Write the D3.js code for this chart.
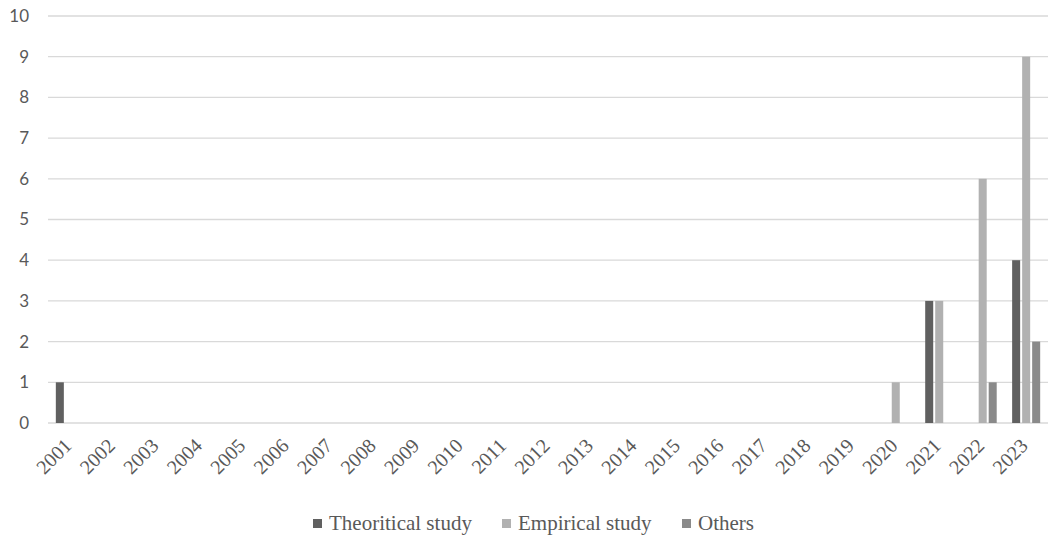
<!DOCTYPE html>
<html><head><meta charset="utf-8">
<script src="https://cdn.jsdelivr.net/npm/d3@7"></script>
<style>body{margin:0;background:#fff}</style>
</head><body>
<svg id="c" width="1048" height="538"></svg>
<script>
const years = ["2001","2002","2003","2004","2005","2006","2007","2008","2009","2010","2011","2012","2013","2014","2015","2016","2017","2018","2019","2020","2021","2022","2023"];
const seriesNames = ["Theoritical study","Empirical study","Others"];
const theoretical = [1,0,0,0,0,0,0,0,0,0,0,0,0,0,0,0,0,0,0,0,3,0,4];
const empirical   = [0,0,0,0,0,0,0,0,0,0,0,0,0,0,0,0,0,0,0,1,3,6,9];
const others      = [0,0,0,0,0,0,0,0,0,0,0,0,0,0,0,0,0,0,0,0,0,1,2];
const yTicks = [0,1,2,3,4,5,6,7,8,9,10];
const colors = ["#606060","#b1b1b1","#8a8a8a"];

const svg = d3.select("#c");
const L = 48, R = 1048, T = 16, B = 423;
const x = d3.scaleBand().domain(years).range([L, R]).paddingInner(0.355).paddingOuter(0.18);
const x1 = d3.scaleBand().domain(seriesNames).range([0, x.bandwidth()]).paddingInner(0.2);
const y = d3.scaleLinear().domain([0,10]).range([B, T]);

svg.append("g").selectAll("line").data(yTicks).join("line")
  .attr("x1", L).attr("x2", R).attr("y1", d=>y(d)).attr("y2", d=>y(d))
  .attr("stroke", "#d9d9d9").attr("stroke-width", 1.3);

const ya = svg.append("g").attr("transform", `translate(${L},0)`)
  .call(d3.axisLeft(y).tickValues(yTicks).tickSize(0).tickPadding(19));
ya.select(".domain").remove();
ya.selectAll("text").attr("fill","#595959").attr("font-family","Lato, 'Open Sans', sans-serif").attr("font-size",17);

const data = [theoretical, empirical, others];
const g = svg.append("g");
data.forEach((vals, si) => {
  g.selectAll(null).data(vals.map((v,i)=>({v, yr: years[i]})).filter(d => d.v > 0)).join("rect")
    .attr("x", d => x(d.yr) + x1(seriesNames[si]))
    .attr("width", x1.bandwidth())
    .attr("y", d => y(d.v))
    .attr("height", d => B - y(d.v))
    .attr("fill", colors[si]);
});

svg.append("g").selectAll("text").data(years).join("text")
  .attr("font-family","'Times New Roman', 'Liberation Serif', serif").attr("font-size",20)
  .attr("fill","#595959")
  .attr("text-anchor","end")
  .attr("transform", d => `translate(${x(d) + x.bandwidth()/2 - 2},${B + 19}) rotate(-45)`)
  .attr("dy","0.35em")
  .text(d => d);

const legX = [313, 502, 682];
const leg = svg.append("g");
seriesNames.forEach((n,i)=>{
  leg.append("rect").attr("x", legX[i]).attr("y", 519).attr("width", 9).attr("height", 9).attr("fill", colors[i]);
  leg.append("text").attr("x", legX[i]+16).attr("y", 530).text(n).attr("fill","#595959")
    .attr("font-family","'Times New Roman', 'Liberation Serif', serif").attr("font-size",21);
});
</script>
</body></html>
